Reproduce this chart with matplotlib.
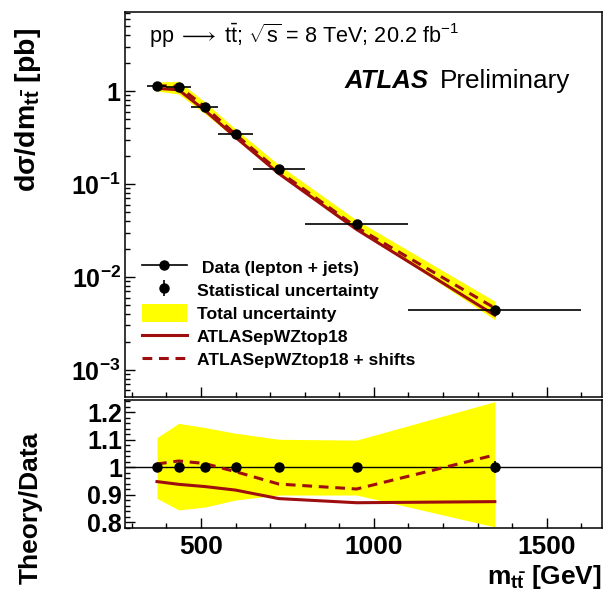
import numpy as np
import matplotlib
matplotlib.use("Agg")
import matplotlib.pyplot as plt
from matplotlib.lines import Line2D
from matplotlib.patches import Patch
from matplotlib.legend_handler import HandlerTuple
from matplotlib.ticker import LogLocator, FixedLocator, FixedFormatter, MultipleLocator, NullFormatter

plt.rcParams['font.family'] = ['Liberation Sans', 'DejaVu Sans']
plt.rcParams['mathtext.fontset'] = 'custom'
plt.rcParams['mathtext.rm'] = 'Liberation Sans'
plt.rcParams['mathtext.it'] = 'Liberation Sans:italic'
plt.rcParams['mathtext.bf'] = 'Liberation Sans:bold'

# m_ttbar bins [GeV]
m_lo = [345, 400, 470, 550, 650, 800, 1100]
m_hi = [400, 470, 550, 650, 800, 1100, 1600]
# measured dsigma/dm [pb]
xsec = [1.13, 1.10, 0.673, 0.347, 0.146, 0.0372, 0.00442]
# relative stat uncertainty
stat_rel = [0.004, 0.004, 0.005, 0.006, 0.007, 0.010, 0.022]
# total uncertainty band (relative to data)
tot_up = [1.108, 1.160, 1.145, 1.124, 1.102, 1.099, 1.239]
tot_dn = [0.887, 0.845, 0.855, 0.881, 0.899, 0.899, 0.783]
# theory / data
r_nom = [0.948, 0.938, 0.930, 0.917, 0.886, 0.871, 0.875]
r_shift = [1.012, 1.023, 1.014, 0.984, 0.939, 0.921, 1.045]

m_lo = np.array(m_lo); m_hi = np.array(m_hi)
x = (m_lo + m_hi) / 2.0
xerr = (m_hi - m_lo) / 2.0
y = np.array(xsec)
red = '#9e0e0e'
dash = (0, (3.2, 2.2))

fig = plt.figure(figsize=(6.04, 5.95), dpi=100)
ax1 = fig.add_axes([125/604, 1-397/595, 477/604, 385/595])
ax2 = fig.add_axes([125/604, 1-528/595, 477/604, 128/595])

# ---- top panel
ax1.fill_between(x, y*np.array(tot_dn), y*np.array(tot_up), color='#ffff00', lw=0, zorder=1)
ax1.plot(x, y*np.array(r_nom), color=red, lw=2.2, zorder=2)
ax1.plot(x, y*np.array(r_shift), color=red, lw=2.2, ls=dash, zorder=3)
ax1.errorbar(x, y, xerr=xerr, yerr=y*np.array(stat_rel), fmt='o', color='k', ms=6.5,
             elinewidth=1.2, capsize=0, zorder=4)
ax1.set_yscale('log')
ax1.set_xlim(280, 1660)
ax1.set_ylim(5.1e-4, 7.1)
ax1.yaxis.set_major_locator(FixedLocator([1e-3, 1e-2, 1e-1, 1]))
ax1.yaxis.set_major_formatter(FixedFormatter([r'$\mathbf{10^{-3}}$', r'$\mathbf{10^{-2}}$',
                                              r'$\mathbf{10^{-1}}$', r'$\mathbf{1}$']))
ax1.yaxis.set_minor_locator(LogLocator(base=10, subs=np.arange(2, 10), numticks=20))
ax1.yaxis.set_minor_formatter(NullFormatter())
ax1.xaxis.set_major_locator(MultipleLocator(500))
ax1.xaxis.set_minor_locator(MultipleLocator(100))
ax1.tick_params(axis='x', labelbottom=False)
ax1.set_ylabel(r'dσ/dm$_{\mathbf{t\bar{t}}}$ [pb]', fontsize=20.5, fontweight='bold')
ax1.yaxis.set_label_coords(-0.172, 0.745)

ax1.text(0.05, 0.938, r'pp$\;\longrightarrow\;$t$\bar{\mathrm{t}}$; $\sqrt{\mathrm{s}}$ = 8 TeV; 20.2 fb$^{-1}$',
         transform=ax1.transAxes, fontsize=15.6, va='center', ha='left')
ax1.text(0.461, 0.821, 'ATLAS', transform=ax1.transAxes, fontsize=18.5, fontweight='bold',
         fontstyle='italic', va='center', ha='left')
ax1.text(0.660, 0.821, 'Preliminary', transform=ax1.transAxes, fontsize=18.8,
         va='center', ha='left')

h_data = Line2D([], [], color='k', marker='o', ms=6.5, lw=1.2)
h_stat = (Line2D([], [], color='k', marker='|', ms=12, mew=1.2, lw=0),
          Line2D([], [], color='k', marker='o', ms=6.5, lw=0))
h_tot = Patch(facecolor='#ffff00', edgecolor='none')
h_nom = Line2D([], [], color=red, lw=2.2)
h_sh = Line2D([], [], color=red, lw=2.2, ls=dash)
ax1.legend([h_data, h_stat, h_tot, h_nom, h_sh],
           [' Data (lepton + jets)', 'Statistical uncertainty', 'Total uncertainty',
            'ATLASepWZtop18', 'ATLASepWZtop18 + shifts'],
           handler_map={tuple: HandlerTuple(ndivide=1)},
           loc='center left', bbox_to_anchor=(0.035, 0.218), frameon=False,
           prop={'weight': 'bold', 'size': 12.6}, handlelength=2.6, handleheight=1.2,
           handletextpad=0.55, labelspacing=0.3, borderpad=0, borderaxespad=0)

# ---- ratio panel
ax2.fill_between(x, tot_dn, tot_up, color='#ffff00', lw=0, zorder=1)
ax2.axhline(1.0, color='k', lw=1.0, zorder=2)
ax2.plot(x, r_nom, color=red, lw=2.2, zorder=3)
ax2.plot(x, r_shift, color=red, lw=2.2, ls=dash, zorder=3)
ax2.errorbar(x, np.ones_like(x), yerr=stat_rel, fmt='o', color='k', ms=6.5,
             elinewidth=1.2, capsize=0, zorder=4)
ax2.set_xlim(280, 1660)
ax2.set_ylim(0.779, 1.245)
ax2.yaxis.set_major_locator(FixedLocator([0.8, 0.9, 1.0, 1.1, 1.2]))
ax2.yaxis.set_major_formatter(FixedFormatter(['0.8', '0.9', '1', '1.1', '1.2']))
ax2.yaxis.set_minor_locator(MultipleLocator(0.02))
ax2.xaxis.set_major_locator(MultipleLocator(500))
ax2.xaxis.set_minor_locator(MultipleLocator(100))
ax2.set_ylabel('Theory/Data', fontsize=19, fontweight='bold')
ax2.yaxis.set_label_coords(-0.172, 0.16)
ax2.set_xlabel(r'm$_{\mathbf{t\bar{t}}}$ [GeV]', fontsize=19, fontweight='bold', ha='right')
ax2.xaxis.set_label_coords(1.0, -0.27)

for ax in (ax1, ax2):
    for s in ax.spines.values():
        s.set_linewidth(1.1)
    ax.tick_params(which='both', direction='in', top=False, right=False, width=1.0)
    ax.tick_params(which='major', length=7)
    ax.tick_params(which='minor', length=3.5)
    for lab in ax.get_xticklabels() + ax.get_yticklabels():
        lab.set_fontweight('bold')
ax1.tick_params(axis='y', labelsize=18, pad=3)
ax2.tick_params(axis='y', labelsize=18, pad=2)
ax2.tick_params(axis='x', labelsize=19, pad=5)

fig.savefig('out.png', dpi=100)
